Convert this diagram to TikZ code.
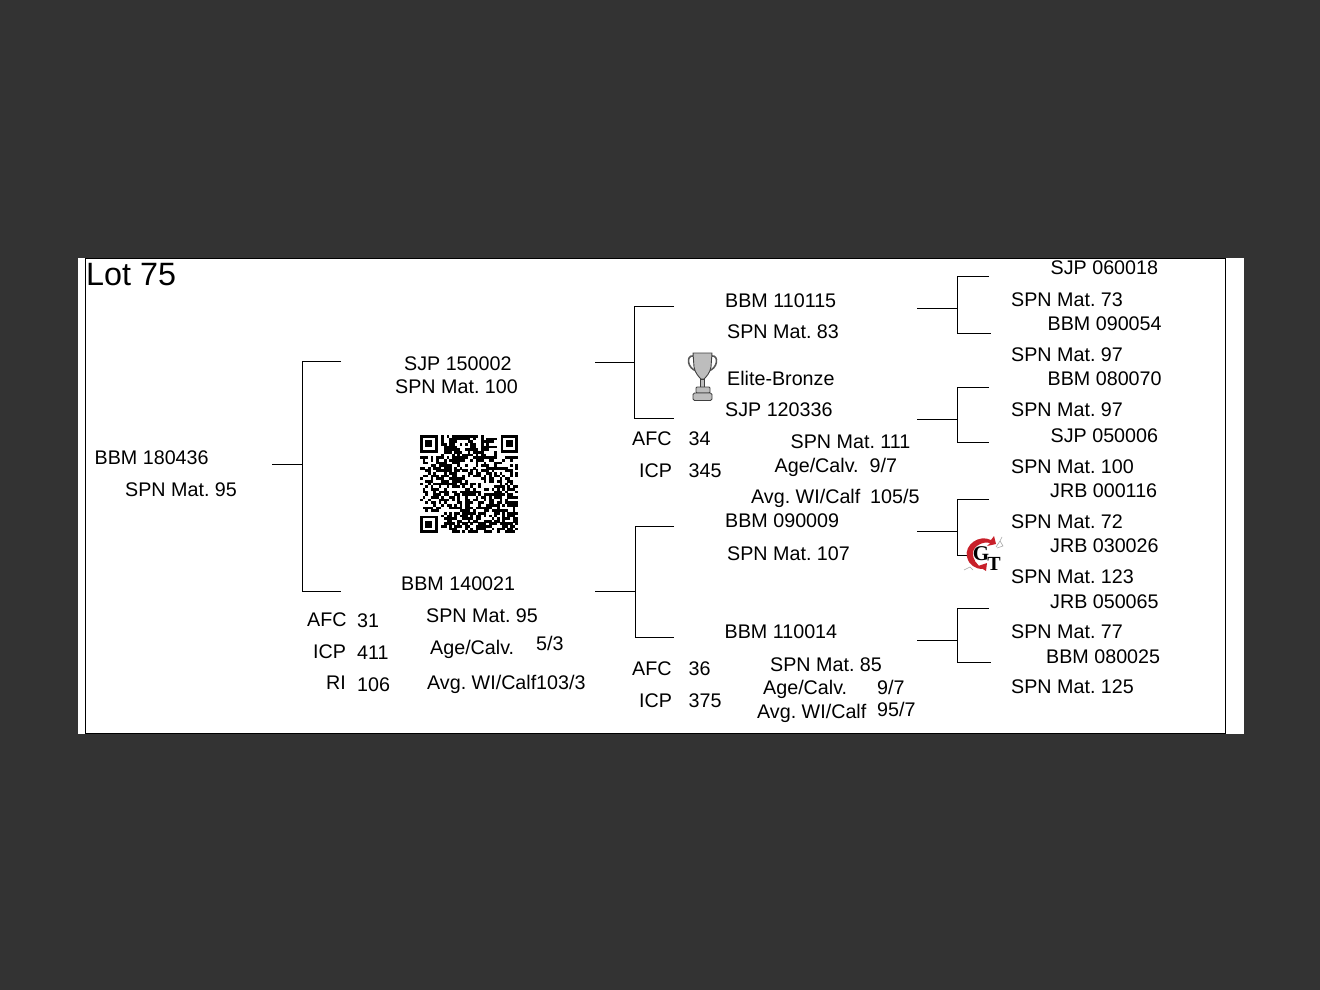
\documentclass[tikz,border=0pt]{standalone}
\usepackage{fontspec}
\setmainfont{Liberation Sans}
\newfontfamily\logofont{Liberation Serif}
\usetikzlibrary{calc,positioning}
\definecolor{pagedark}{HTML}{333333}
\definecolor{cupgray}{HTML}{BDBDBD}
\definecolor{logored}{HTML}{C8202A}
\tikzset{lbl/.style={anchor=base west,inner sep=0pt,font=\fontsize{19.7}{22}\selectfont},
  lotlbl/.style={lbl,font=\fontsize{32.3}{36}\selectfont},
  lnk/.style={draw=black,line width=0.9pt},
  cup/.style={draw=black!75,fill=cupgray,line width=0.9pt},
  dnabit/.style={draw=black!35,line width=0.6pt}}
\begin{document}
\frenchspacing
\begin{tikzpicture}[x=1pt,y=-1pt]
\useasboundingbox (0,0) rectangle (1320,990);
\fill[pagedark] (0,0) rectangle (1320,990);
\fill[white] (78,258) rectangle (1244,734);
\draw[black,line width=1pt] (85.5,258.5) rectangle (1225.5,733.5);
\node[lotlbl] (lot) at (86,285) {Lot 75};
% left bull
\node[lbl] (bull) at (94.5,464) {BBM 180436};
\node[lbl] (bullmat) at (125,496) {SPN Mat. 95};
\node[lbl] (sire) at (404,370) {SJP 150002};
\node[lbl] (siremat) at (395,393) {SPN Mat. 100};
\node[lbl] (dam) at (401,590) {BBM 140021};
\node[lbl] (dammat) at (426,622) {SPN Mat. 95};
\node[lbl] (damafc) at (307,626) {AFC};
\node[lbl] (damafcv) at (357,627) {31};
\node[lbl] (damicp) at (313,658) {ICP};
\node[lbl] (damicpv) at (357,659) {411};
\node[lbl] (damri) at (326,689) {RI};
\node[lbl] (damriv) at (357,691) {106};
\node[lbl] (damage) at (430,654) {Age/Calv.};
\node[lbl] (damagev) at (536,650) {5/3};
\node[lbl] (damwi) at (427,689) {Avg. WI/Calf};
\node[lbl] (damwiv) at (536,689) {103/3};
% middle column
\node[lbl] (ss) at (725,307) {BBM 110115};
\node[lbl] (ssmat) at (727,338) {SPN Mat. 83};
\node[lbl] (elite) at (727,385) {Elite-Bronze};
\node[lbl] (sd) at (725,416) {SJP 120336};
\node[lbl] (sdmat) at (790.5,448) {SPN Mat. 111};
\node[lbl] (sdafc) at (632,445) {AFC};
\node[lbl] (sdafcv) at (688.5,445) {34};
\node[lbl] (sdicp) at (639,477) {ICP};
\node[lbl] (sdicpv) at (688.5,477) {345};
\node[lbl] (sdage) at (774.5,472) {Age/Calv.};
\node[lbl] (sdagev) at (869.5,472) {9/7};
\node[lbl] (sdwi) at (751,503) {Avg. WI/Calf};
\node[lbl] (sdwiv) at (870,503) {105/5};
\node[lbl] (ds) at (725,527) {BBM 090009};
\node[lbl] (dsmat) at (727,560) {SPN Mat. 107};
\node[lbl] (dd) at (724.5,638) {BBM 110014};
\node[lbl] (ddmat) at (770,671) {SPN Mat. 85};
\node[lbl] (ddafc) at (632,675) {AFC};
\node[lbl] (ddafcv) at (688.5,675) {36};
\node[lbl] (ddicp) at (639,707) {ICP};
\node[lbl] (ddicpv) at (688.5,707) {375};
\node[lbl] (ddage) at (763,694) {Age/Calv.};
\node[lbl] (ddagev) at (877,694) {9/7};
\node[lbl] (ddwi) at (757,718) {Avg. WI/Calf};
\node[lbl] (ddwiv) at (877,716) {95/7};
% right column
\node[lbl] (sss) at (1050.5,274) {SJP 060018};
\node[lbl] (sssmat) at (1011,306) {SPN Mat. 73};
\node[lbl] (ssd) at (1047.5,330) {BBM 090054};
\node[lbl] (ssdmat) at (1011,361) {SPN Mat. 97};
\node[lbl] (sds) at (1047.5,385) {BBM 080070};
\node[lbl] (sdsmat) at (1011,416) {SPN Mat. 97};
\node[lbl] (sdd) at (1050.5,442) {SJP 050006};
\node[lbl] (sddmat) at (1011,473) {SPN Mat. 100};
\node[lbl] (dss) at (1050,497) {JRB 000116};
\node[lbl] (dssmat) at (1011,528) {SPN Mat. 72};
\node[lbl] (dsd) at (1050,552) {JRB 030026};
\node[lbl] (dsdmat) at (1011,583) {SPN Mat. 123};
\node[lbl] (dds) at (1050,608) {JRB 050065};
\node[lbl] (ddsmat) at (1011,638) {SPN Mat. 77};
\node[lbl] (ddd) at (1046,663) {BBM 080025};
\node[lbl] (dddmat) at (1011,693) {SPN Mat. 125};
% brackets
\coordinate (bullout) at (272,464);
\coordinate (sirein) at (341,361);
\coordinate (damin) at (341,591);
\draw[lnk] (bullout)--(302,464);
\draw[lnk] (sirein)--(302,361)--(302,591)--(damin);
\coordinate (sireout) at (595,362);
\coordinate (ssin) at (674,306);
\coordinate (sdin) at (674,418);
\draw[lnk] (sireout)--(634,362);
\draw[lnk] (ssin)--(634,306)--(634,418)--(sdin);
\coordinate (damout) at (595,591);
\coordinate (dsin) at (674,526);
\coordinate (ddin) at (674,637);
\draw[lnk] (damout)--(635,591);
\draw[lnk] (dsin)--(635,526)--(635,637)--(ddin);
\coordinate (ssout) at (917,308);
\coordinate (sssin) at (989,276);
\coordinate (ssdin) at (991,333);
\draw[lnk] (ssout)--(957,308);
\draw[lnk] (sssin)--(957,276)--(957,333)--(ssdin);
\coordinate (sdout) at (917,419);
\coordinate (sdsin) at (989,387);
\coordinate (sddin) at (989,442);
\draw[lnk] (sdout)--(957,419);
\draw[lnk] (sdsin)--(957,387)--(957,442)--(sddin);
\coordinate (dsout) at (917,531);
\coordinate (dssin) at (989,499);
\coordinate (dsdin) at (970,555);
\draw[lnk] (dsout)--(957,531);
\draw[lnk] (dssin)--(957,499)--(957,555)--(dsdin);
\coordinate (ddout) at (917,640);
\coordinate (ddsin) at (989,608);
\coordinate (dddin) at (991,662);
\draw[lnk] (ddout)--(957,640);
\draw[lnk] (ddsin)--(957,608)--(957,662)--(dddin);
% qr code
\pgfmathsetseed{75}
\foreach \i in {0,...,36} \foreach \j in {0,...,36} {
  \pgfmathsetmacro{\hit}{rnd<0.55 && !(\i<8 && \j<8) && !(\i>28 && \j<8) && !(\i<8 && \j>28) ? 1 : 0}
  \ifdim\hit pt>0pt
    \fill[black] ({420+\i*2.65},{435+\j*2.65}) rectangle ++(2.7,2.7);
  \fi
}
\foreach \qx/\qy in {420/435,500.5/435,420/515.5} {
  \fill[black] (\qx,\qy) rectangle ++(17.5,17.5);
  \fill[white] (\qx+2.6,\qy+2.6) rectangle ++(12.3,12.3);
  \fill[black] (\qx+5.2,\qy+5.2) rectangle ++(7.1,7.1);
}
% trophy
\draw[draw=black!65,line width=1.6pt] (693,356) .. controls (686,355) and (687,369) .. (697,371);
\draw[draw=black!65,line width=1.6pt] (712,356) .. controls (719,355) and (718,369) .. (708,371);
\draw[cup] (693,353)--(712,353)--(711,367) .. controls (710,373) and (706,377) .. (704,379)--(701,379) .. controls (699,377) and (695,373) .. (694,367)--cycle;
\fill[cupgray,draw=black!75,line width=0.7pt] (700.5,379) rectangle (704.5,387);
\draw[cup,rounded corners=1pt] (696,387) rectangle (710,393);
\draw[cup,rounded corners=1.5pt] (693,393) rectangle (712,400.5);
% logo
\fill[logored] (994,536) -- (991,540) .. controls (979,534) and (964,545) .. (967,557) .. controls (969,565) and (975,569) .. (983,569) .. controls (977,565) and (972,559) .. (973,552) .. controls (974,546) and (983,541) .. (990,543)--(987,546)--(996,544)--cycle;
\fill[logored] (978,566)--(987,563)--(986,571)--cycle;
\draw[dnabit] (996,547)--(1000,541)--(1003,546)--(997,548) (1000,541)--(1002,537);
\draw[dnabit] (964,570)--(970,567)--(973,570);
\node[inner sep=0pt,font=\logofont\bfseries\fontsize{21}{21}\selectfont] (logog) at (981,554) {G};
\node[inner sep=0pt,font=\logofont\bfseries\fontsize{20}{20}\selectfont] (logot) at (994,564) {T};
\end{tikzpicture}
\end{document}
